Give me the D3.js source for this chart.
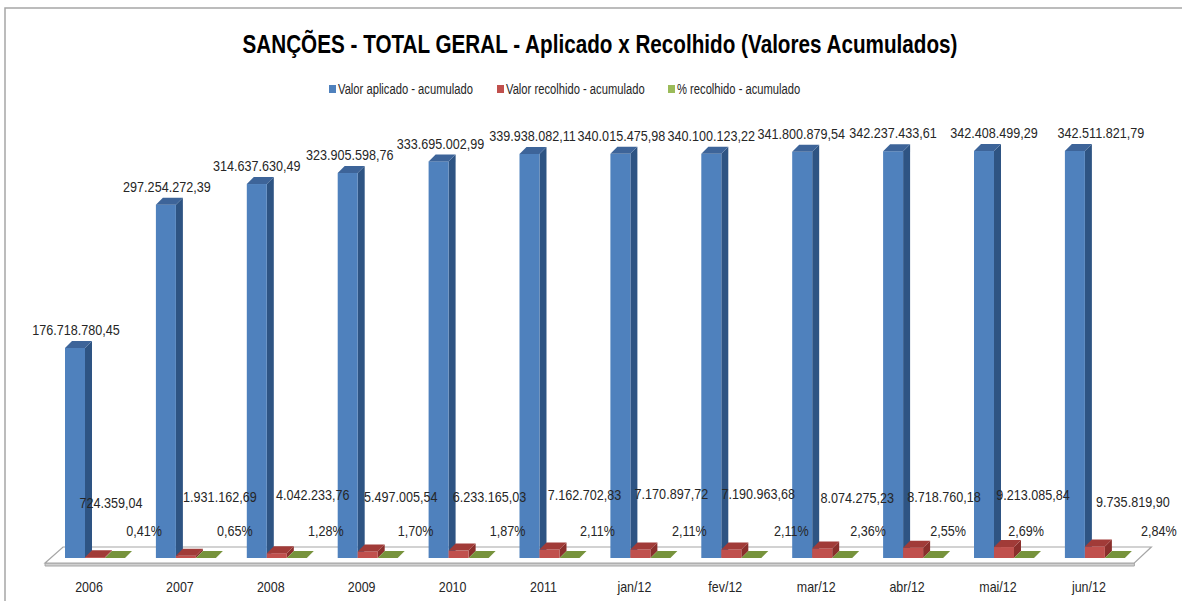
<!DOCTYPE html>
<html><head><meta charset="utf-8">
<script src="https://cdn.jsdelivr.net/npm/d3@7"></script>
<style>body{margin:0;background:#fff;}svg{display:block;}</style>
</head><body>
<svg id="chart" width="1182" height="601"></svg>
<script>
// ---- data ----
const categories = ["2006","2007","2008","2009","2010","2011","jan/12","fev/12","mar/12","abr/12","mai/12","jun/12"];
const aplicado = [176718780.45,297254272.39,314637630.49,323905598.76,333695002.99,339938082.11,340015475.98,340100123.22,341800879.54,342237433.61,342408499.29,342511821.79];
const recolhido = [724359.04,1931162.69,4042233.76,5497005.54,6233165.03,7162702.83,7170897.72,7190963.68,8074275.23,8718760.18,9213085.84,9735819.90];
const percentual = [0.41,0.65,1.28,1.70,1.87,2.11,2.11,2.11,2.36,2.55,2.69,2.84];
const seriesNames = ["Valor aplicado - acumulado","Valor recolhido - acumulado","% recolhido - acumulado"];
const titleText = "SANÇÕES - TOTAL GERAL - Aplicado x Recolhido (Valores Acumulados)";

// ---- layout (label nudges, as Excel placed them) ----
const blueShift = [1,1,0,2,2,3,1,0,-1,0,10,26];
const redShift = [16,34,36,33,31,35,31,27,35,31,29,38];
const redDy = [6,0,-2,0,0,-2,-3,-3,1,0,-2,5];
const greenShift = [29,29,29,28,29,28,29,40,26,15,2,44];

const svg = d3.select("#chart");
const font = "'Liberation Sans',Arial,sans-serif";
const textCol = "#262626";
function narrow(sel, k) {
  sel.each(function(){
    const L = this.getComputedTextLength();
    d3.select(this).attr("textLength", L*k).attr("lengthAdjust","spacingAndGlyphs");
  });
}

// frame
svg.append("rect").attr("x",5).attr("y",8).attr("width",1300).attr("height",700)
  .attr("fill","#fff").attr("stroke","#a6a6a6").attr("stroke-width",1.5);

// title
svg.append("text").attr("x",600).attr("y",53).attr("text-anchor","middle")
  .attr("font-family",font).attr("font-weight","bold").attr("font-size",26)
  .attr("textLength",715).attr("lengthAdjust","spacingAndGlyphs")
  .attr("fill","#000").text(titleText);

// scales
const n = categories.length;
const step = 90.9;
const x = d3.scaleBand().domain(categories).range([65 - step*0.17, 65 - step*0.17 + step*n])
  .paddingInner(0.34).paddingOuter(0.17);
const xs = d3.scaleBand().domain([0,1,2]).range([0, x.bandwidth()]);
const y = d3.scaleLinear().domain([0, 350e6]).range([558, 142]);
const y0 = y(0);
const dx = 7, dy = -7;

const colors = [
  {front:"#4F81BD", side:"#2E5483", top:"#3D6499"},
  {front:"#C0504D", side:"#8A2F2C", top:"#A13B38"},
  {front:"#9BBB59", side:"#5F7A2A", top:"#77933C"}
];

// floor
const r = x.range();
const fl = [[r[0]+13.5, y0-11],[r[1]+11, y0-11],[r[1]-6, y0+5],[r[0]-4.5, y0+5]];
svg.append("polygon").attr("points", [[r[0]-4.5,y0+5],[r[1]-6,y0+5],[r[1]-6,y0+8],[r[0]-4.5,y0+8]].join(" "))
  .attr("fill","#d0d0d0").attr("stroke","#a6a6a6").attr("stroke-width",1);
svg.append("polygon").attr("points", fl.join(" "))
  .attr("fill","#fff").attr("stroke","#a6a6a6").attr("stroke-width",1.2);

// bars
const seriesVals = [aplicado, recolhido, percentual.map(p => p/100)];
const g = svg.append("g");
categories.forEach((c, i) => {
  seriesVals.forEach((vals, s) => {
    const x0 = x(c) + xs(s), w = xs.bandwidth();
    const yt = y(vals[i]);
    const col = colors[s];
    const bar = g.append("g");
    bar.append("polygon").attr("points", [[x0+w,yt],[x0+w+dx,yt+dy],[x0+w+dx,y0+dy],[x0+w,y0]].join(" "))
      .attr("fill", col.side);
    bar.append("rect").attr("x",x0).attr("y",yt).attr("width",w).attr("height",Math.max(0,y0-yt))
      .attr("fill",col.front);
    bar.append("polygon").attr("points", [[x0,yt],[x0+dx,yt+dy],[x0+w+dx,yt+dy],[x0+w,yt]].join(" "))
      .attr("fill", col.top);
  });
});

// value labels
const fmtNum = v => {
  const parts = v.toFixed(2).split(".");
  return parts[0].replace(/\B(?=(\d{3})+(?!\d))/g, ".") + "," + parts[1];
};
const lab = svg.append("g").attr("font-family",font).attr("font-size",15).attr("fill",textCol)
  .attr("text-anchor","middle");
categories.forEach((c, i) => {
  const w = xs.bandwidth();
  lab.append("text").attr("x", x(c)+xs(0)+w/2+blueShift[i]).attr("y", y(aplicado[i]) - 18)
    .attr("dy","0.35em").text(fmtNum(aplicado[i]));
  lab.append("text").attr("x", x(c)+xs(1)+w/2+redShift[i]).attr("y", y0 - 61 + redDy[i])
    .attr("dy","0.35em").text(fmtNum(recolhido[i]));
  lab.append("text").attr("x", x(c)+xs(2)+w/2+greenShift[i]).attr("y", y0 - 27)
    .attr("dy","0.35em").text(percentual[i].toFixed(2).replace(".",",") + "%");
});
narrow(lab.selectAll("text"), 0.84);

// category axis labels
const ax = svg.append("g").attr("font-family",font).attr("font-size",15).attr("fill",textCol)
  .attr("text-anchor","middle");
categories.forEach(c => {
  ax.append("text").attr("x", x(c)+24).attr("y", 587).attr("dy","0.35em").text(c);
});
narrow(ax.selectAll("text"), 0.83);

// legend
const legX = [329, 497, 668];
const leg = svg.append("g").attr("font-family",font).attr("font-size",14).attr("fill",textCol);
seriesNames.forEach((nm, s) => {
  leg.append("rect").attr("x",legX[s]).attr("y",85).attr("width",7).attr("height",8).attr("fill",colors[s].front);
  leg.append("text").attr("x",legX[s]+9).attr("y",89).attr("dy","0.35em").text(nm);
});
narrow(leg.selectAll("text"), 0.8);
</script>
</body></html>
